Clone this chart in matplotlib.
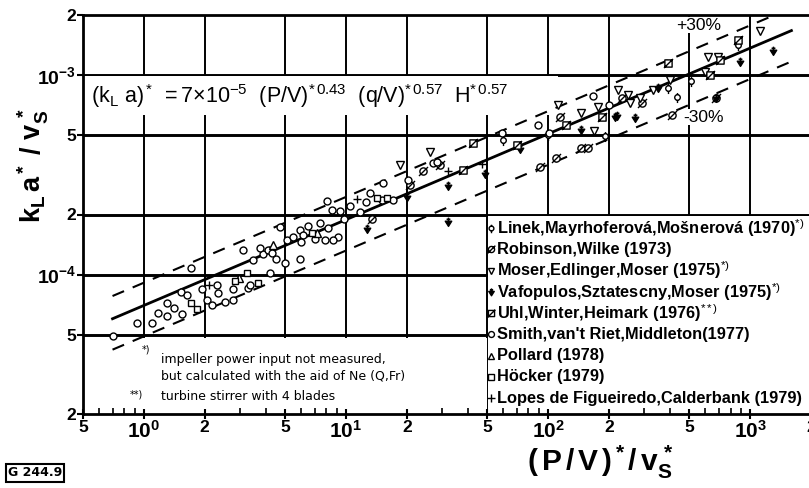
import matplotlib
matplotlib.use('Agg')
import matplotlib.pyplot as plt
import numpy as np
from matplotlib.path import Path
from matplotlib.patches import Rectangle

plt.rcParams['font.family'] = ['DejaVu Sans']
plt.rcParams['mathtext.fontset'] = 'custom'
plt.rcParams['mathtext.rm'] = 'Liberation Sans'
plt.rcParams['mathtext.it'] = 'Liberation Sans:italic'
plt.rcParams['mathtext.bf'] = 'Liberation Sans:bold'
plt.rcParams['mathtext.default'] = 'rm'

# ---------------- data ----------------
smith_x = [0.705, 0.925, 1.10, 1.18, 1.30, 1.30, 1.41, 1.55, 1.53, 1.64, 1.94, 2.06, 2.18, 2.30, 2.33,
           2.52, 2.76, 2.76, 3.28, 3.36, 1.71, 3.10, 3.47, 3.89, 4.21, 5.00, 5.93, 4.21, 4.72, 8.07,
           8.55, 9.36, 5.93, 6.14, 7.04, 7.89, 7.45, 8.16, 9.15, 8.64, 5.12, 3.76, 4.12, 4.31, 27.0,
           28.2, 15.3, 13.2, 15.1, 17.1, 20.3, 59.3, 89.3, 166, 201, 101, 5.5, 6.5, 6.0, 10.5, 11.8,
           12.5, 9.8, 4.5]
smith_y = [4.92e-5, 5.71e-5, 5.71e-5, 6.41e-5, 6.19e-5, 7.20e-5, 6.79e-5, 6.34e-5, 8.17e-5, 7.89e-5,
           8.46e-5, 7.45e-5, 7.03e-5, 8.87e-5, 8.08e-5, 7.28e-5, 7.45e-5, 8.46e-5, 8.56e-5, 8.87e-5,
           1.08e-4, 1.33e-4, 1.18e-4, 1.27e-4, 1.33e-4, 1.14e-4, 1.20e-4, 1.02e-4, 1.73e-4, 2.34e-4,
           2.11e-4, 2.08e-4, 1.67e-4, 1.58e-4, 1.51e-4, 1.49e-4, 1.81e-4, 1.71e-4, 1.54e-4, 1.49e-4,
           1.49e-4, 1.36e-4, 1.33e-4, 1.28e-4, 3.62e-4, 3.67e-4, 2.88e-4, 2.56e-4, 2.37e-4, 2.37e-4,
           2.98e-4, 5.12e-4, 5.61e-4, 7.85e-4, 7.08e-4, 5.12e-4, 1.55e-4, 1.75e-4, 1.45e-4, 2.20e-4,
           2.05e-4, 2.30e-4, 1.90e-4, 1.20e-4]

hoecker_x = [1.71, 1.83, 2.83, 3.68, 3.24, 14.3, 16.0, 6.8]
hoecker_y = [7.2e-5, 6.71e-5, 9.29e-5, 9.08e-5, 1.02e-4, 2.42e-4, 2.42e-4, 1.62e-4]

pollard_x = [7.2, 4.36, 2.95]
pollard_y = [1.61e-4, 1.41e-4, 9.6e-5]

lopes_x = [11.4, 32.0, 47.0, 2.1]
lopes_y = [2.39e-4, 3.3e-4, 3.6e-4, 8.9e-5]

robinson_x = [24.1, 29.2, 20.8, 115, 145, 158, 233, 293, 412, 680, 91.4, 109, 13.5]
robinson_y = [3.30e-4, 3.54e-4, 2.81e-4, 6.17e-4, 4.31e-4, 4.31e-4, 7.67e-4, 7.24e-4, 6.31e-4,
              7.67e-4, 3.46e-4, 3.84e-4, 1.9e-4]

moser_x = [26.1, 112, 145, 177, 222, 249, 286, 332, 600, 695, 621, 1122, 403, 18.5, 169, 255]
moser_y = [4.11e-4, 7.08e-4, 6.46e-4, 6.92e-4, 8.41e-4, 7.94e-4, 7.67e-4, 8.41e-4, 1.035e-3,
           1.23e-3, 1.23e-3, 1.66e-3, 9.44e-4, 3.54e-4, 5.24e-4, 7.24e-4]

vafo_x = [32.0, 72.8, 145, 215, 351, 270, 894, 1301, 49, 32, 20, 12.7, 220, 680]
vafo_y = [2.78e-4, 4.26e-4, 5.30e-4, 6.17e-4, 8.61e-4, 6.10e-4, 1.16e-3, 1.32e-3, 3.2e-4, 1.83e-4,
          2.45e-4, 1.70e-4, 6.2e-4, 7.67e-4]

uhl_x = [38.0, 42.6, 70.3, 185, 394, 635, 712, 874, 122]
uhl_y = [3.34e-4, 4.56e-4, 4.46e-4, 6.17e-4, 1.15e-3, 1.0e-3, 1.19e-3, 1.50e-3, 5.6e-4]

linek_x = [511, 436, 192, 394, 874, 60, 100]
linek_y = [9.33e-4, 7.76e-4, 4.94e-4, 8.61e-4, 1.41e-3, 4.7e-4, 5.0e-4]

corr_coef = 7e-5
corr_exp = 0.43
band = 0.30
corr_range = (0.7, 1600)
upper_range = (0.7, 1300)
lower_range = (0.7, 1550)

x_ticks = [0.5, 1, 2, 5, 10, 20, 50, 100, 200, 500, 1000, 2000]
x_tick_labels = ['5', r'$\mathbf{10^0}$', '2', '5', r'$\mathbf{10^1}$', '2', '5', r'$\mathbf{10^2}$',
                 '2', '5', r'$\mathbf{10^3}$', '2']
y_ticks = [2e-5, 5e-5, 1e-4, 2e-4, 5e-4, 1e-3, 2e-3]
y_tick_labels = ['2', '5', r'$\mathbf{10^{-4}}$', '2', '5', r'$\mathbf{10^{-3}}$', '2']

legend_labels = [
    r'Linek,Mayrhoferová,Mošnerová (1970)$^{*)}$',
    'Robinson,Wilke (1973)',
    r'Moser,Edlinger,Moser (1975)$^{*)}$',
    r'Vafopulos,Sztatescny,Moser (1975)$^{*)}$',
    r'Uhl,Winter,Heimark (1976)$^{**)}$',
    "Smith,van't Riet,Middleton(1977)",
    'Pollard (1978)',
    'Höcker (1979)',
    'Lopes de Figueiredo,Calderbank (1979)',
]

# ---------------- markers ----------------
M, L, C = Path.MOVETO, Path.LINETO, Path.CLOSEPOLY
circle = Path.unit_circle()
slash = Path([(-1.25, -1.25), (1.25, 1.25)], [M, L])
square = Path([(-1, -1), (1, -1), (1, 1), (-1, 1), (-1, -1)], [M, L, L, L, C])
m_circ_slash = Path.make_compound_path(circle, slash)
m_sq_slash = Path.make_compound_path(square, slash)
m_linek = Path.make_compound_path(circle, Path([(0, -1), (0, -2.0)], [M, L]),
                                  Path([(0, 1), (0, 1.6)], [M, L]))
m_vafo = Path.make_compound_path(
    Path([(-1, 0.4), (1, 0.4), (0, -1.2), (-1, 0.4)], [M, L, L, C]),
    Path([(0, 0.4), (0, 1.5)], [M, L]),
    Path([(-0.6, 1.0), (0.6, 1.0)], [M, L]))

series = [
    (linek_x, linek_y, dict(marker=m_linek, ms=8, mfc='white')),
    (robinson_x, robinson_y, dict(marker=m_circ_slash, ms=6.5, mfc='white')),
    (moser_x, moser_y, dict(marker='v', ms=5.5, mfc='white')),
    (vafo_x, vafo_y, dict(marker=m_vafo, ms=7, mfc='black')),
    (uhl_x, uhl_y, dict(marker=m_sq_slash, ms=6.5, mfc='white')),
    (smith_x, smith_y, dict(marker='o', ms=5, mfc='white')),
    (pollard_x, pollard_y, dict(marker='^', ms=5.5, mfc='white')),
    (hoecker_x, hoecker_y, dict(marker='s', ms=4.8, mfc='white')),
    (lopes_x, lopes_y, dict(marker='+', ms=6, mfc='black')),
]

# ---------------- figure ----------------
W, H = 809, 488
fig = plt.figure(figsize=(W / 100, H / 100), dpi=100)
ax = fig.add_axes([83 / W, 1 - 414 / H, 728 / W, 399 / H])
ax.set_xscale('log')
ax.set_yscale('log')
ax.set_xlim(0.5, 2000)
ax.set_ylim(2e-5, 2e-3)

# grid lines
for xv in [1, 2, 5, 10, 20, 50, 100, 200, 500, 1000]:
    ax.axvline(xv, color='black', lw=1.4, zorder=0.5)
for yv in [5e-5, 1e-4, 2e-4, 5e-4, 1e-3]:
    ax.axhline(yv, color='black', lw=2.1, zorder=0.5)

# white masks (text areas)
ax.add_patch(Rectangle((0.5, 6.3e-4), 112, 9.85e-4 - 6.3e-4, fc='white', ec='none', zorder=1))
ax.add_patch(Rectangle((0.5, 2.08e-5), 49.3, 4.8e-5 - 2.08e-5, fc='white', ec='none', zorder=1))
ax.add_patch(Rectangle((50.6, 2.05e-5), 3000, 1.965e-4 - 2.05e-5, fc='white', ec='none', zorder=1))

# correlation lines
xs = np.logspace(np.log10(corr_range[0]), np.log10(corr_range[1]), 50)
ax.plot(xs, corr_coef * xs ** corr_exp, color='black', lw=2.0, zorder=3)
xu = np.logspace(np.log10(upper_range[0]), np.log10(upper_range[1]), 50)
ax.plot(xu, (1 + band) * corr_coef * xu ** corr_exp, color='black', lw=1.5,
        dashes=(6, 4.5), zorder=3)
xl = np.logspace(np.log10(lower_range[0]), np.log10(lower_range[1]), 50)
ax.plot(xl, (1 - band) * corr_coef * xl ** corr_exp, color='black', lw=1.5,
        dashes=(6, 4.5), zorder=3)

for sx, sy, st in series:
    ax.plot(sx, sy, ls='none', color='black', mec='black', mew=1.0, zorder=4,
            marker=st['marker'], ms=st['ms'], mfc=st['mfc'])

# legend (manual rows)
row0, row_step = 228, 21.25
for i, ((sx, sy, st), lab) in enumerate(zip(series, legend_labels)):
    yax = 1 - (row0 + i * row_step - 15) / 399
    ax.plot([(491 - 83) / 728], [yax], transform=ax.transAxes, clip_on=False, ls='none',
            color='black', mec='black', mew=1.0, marker=st['marker'], ms=st['ms'] * 0.85,
            mfc=st['mfc'], zorder=6)
    ax.text((497 - 83) / 728, yax, lab, transform=ax.transAxes, ha='left', va='center',
            family='Liberation Sans', fontweight='bold', fontsize=11.8, zorder=6)

# spines & ticks
for s in ['left', 'bottom', 'top']:
    ax.spines[s].set_linewidth(2.0)
ax.spines['right'].set_visible(False)
ax.set_xticks(x_ticks)
ax.set_xticklabels(x_tick_labels)
ax.set_yticks(y_ticks)
ax.set_yticklabels(y_tick_labels)
minor_x = [v * m for v in [0.1, 1, 10, 100, 1000] for m in [3, 4, 6, 7, 8, 9]]
ax.set_xticks([v for v in minor_x if 0.5 < v < 2000], minor=True)
ax.set_xticklabels([], minor=True)
ax.set_yticks([], minor=True)
ax.tick_params(axis='x', which='major', direction='inout', length=7, width=1.5, pad=1)
ax.tick_params(axis='x', which='minor', direction='in', length=4, width=1.2)
ax.tick_params(axis='y', which='major', direction='out', length=4, width=1.5, pad=1)
for lab in ax.get_xticklabels():
    lab.set_family('Liberation Sans')
    lab.set_fontweight('bold')
    lab.set_fontsize(15 if '10' in lab.get_text() else 12.5)
for lab in ax.get_yticklabels():
    lab.set_family('Liberation Sans')
    lab.set_fontweight('bold')
    lab.set_fontsize(14 if '10' in lab.get_text() else 12.5)

# equation
ax.text(0.55, 7.85e-4,
        r'$(\mathrm{k_L\ a})^*\ = 7{\times}10^{-5}\ \ (\mathrm{P/V})^{*\,0.43}\ \ (\mathrm{q/V})^{*\,0.57}\ \ \mathrm{H}^{*\,0.57}$',
        fontsize=15.5, va='center', ha='left', zorder=5)

# band labels
ax.text(430, 1.78e-3, '+30%', fontsize=12.5, family='Liberation Sans', ha='left', va='center', zorder=5,
        bbox=dict(fc='white', ec='none', pad=0.5))
ax.text(465, 6.15e-4, '-30%', fontsize=12.5, family='Liberation Sans', ha='left', va='center', zorder=5,
        bbox=dict(fc='white', ec='none', pad=0.5))

# footnotes
ax.text(0.98, 4.2e-5, '*)', fontsize=7, ha='left', va='center', zorder=5)
ax.text(1.22, 3.73e-5, 'impeller power input not measured,', fontsize=9, ha='left', va='center', zorder=5)
ax.text(1.22, 3.10e-5, 'but calculated with the aid of Ne (Q,Fr)', fontsize=9, ha='left', va='center', zorder=5)
ax.text(0.85, 2.5e-5, '**)', fontsize=7, ha='left', va='center', zorder=5)
ax.text(1.22, 2.46e-5, 'turbine stirrer with 4 blades', fontsize=9, ha='left', va='center', zorder=5)

# axis labels
fig.text(33 / W, 1 - 166 / H, r'$\mathbf{k_L\,a^*\ /\ v_S^{\,*}}$', rotation=90, fontsize=19.5,
         ha='center', va='center')
fig.text(600 / W, 1 - 462 / H, r'$\mathbf{(\,P\,/\,V\,)^*/\,v_S^{\,*}}$', fontsize=21.5,
         ha='center', va='center')

fig.text(8 / W, 1 - 473 / H, 'G 244.9', fontsize=9, fontweight='bold', ha='left', va='center',
         bbox=dict(fc='white', ec='black', lw=1.5, pad=1.5))

fig.savefig('out.png', dpi=100)
